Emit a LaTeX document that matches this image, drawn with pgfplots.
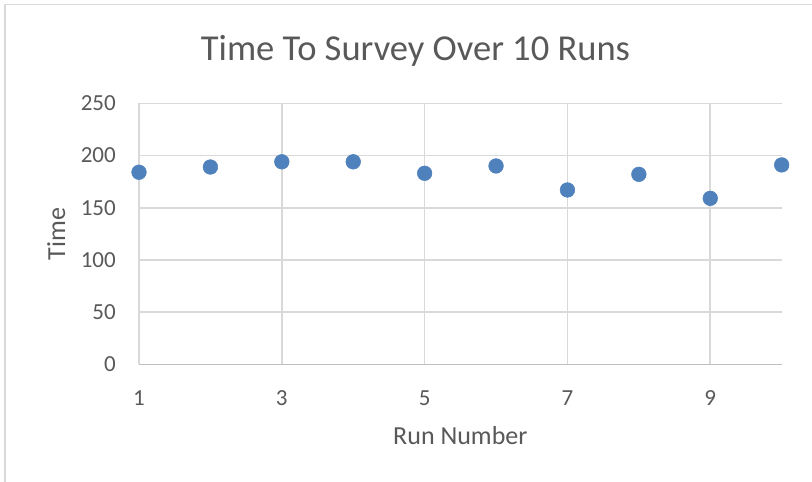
\documentclass[border=0pt]{standalone}
\usepackage{fontspec}
\setmainfont{Carlito}
\usepackage{pgfplots}
\pgfplotsset{compat=1.18}
\definecolor{txt}{HTML}{595959}
\definecolor{grd}{HTML}{D9D9D9}
\definecolor{axl}{HTML}{BFBFBF}
\definecolor{dot}{HTML}{4F81BD}
\begin{document}
\begin{tikzpicture}
\useasboundingbox (0,0) rectangle (609pt,360.75pt);
\fill[white] (0,0) rectangle (609pt,360.75pt);
\draw[grd, line width=1.2pt] (3.75pt,-2pt) -- (3.75pt,357.4pt) -- (615pt,357.4pt);
\begin{axis}[
  at={(104.25pt,87.5pt)}, anchor=south west,
  scale only axis, width=482pt, height=195.75pt,
  xmin=1, xmax=10, ymin=0, ymax=250,
  xtick={1,3,5,7,9}, ytick={0,50,...,250},
  grid=major, major grid style={grd, line width=1.2pt},
  tick style={draw=none},
  axis lines*=left,
  x axis line style={axl, line width=1.2pt, -},
  y axis line style={grd, line width=1.2pt, -},
  clip=false,
  /pgf/number format/assume math mode=true,
  ticklabel style={font=\fontsize{17.25}{20}\selectfont, text=txt},
  xticklabel style={anchor=north, inner sep=0pt, yshift=-19.3pt},
  yticklabel style={anchor=east, inner sep=0pt, xshift=-17.25pt},
  xlabel={Run Number}, ylabel={Time},
  label style={font=\fontsize{19.5}{22}\selectfont, text=txt},
  xlabel style={at={(axis description cs:0.5,-0.3065)}, anchor=base},
  ylabel style={at={(axis description cs:-0.1151,0.5)}, anchor=base},
]
\addplot[dot, only marks, mark=*, mark size=5.5pt, mark options={draw=dot, fill=dot}] coordinates {
(1,184) (2,189) (3,194) (4,194) (5,183) (6,190) (7,167) (8,182) (9,159) (10,191)
};
\end{axis}
\node[anchor=base, font=\fontsize{27.4}{32}\selectfont, text=txt] at (311.6pt,315pt) {Time To Survey Over 10 Runs};
\end{tikzpicture}
\end{document}
